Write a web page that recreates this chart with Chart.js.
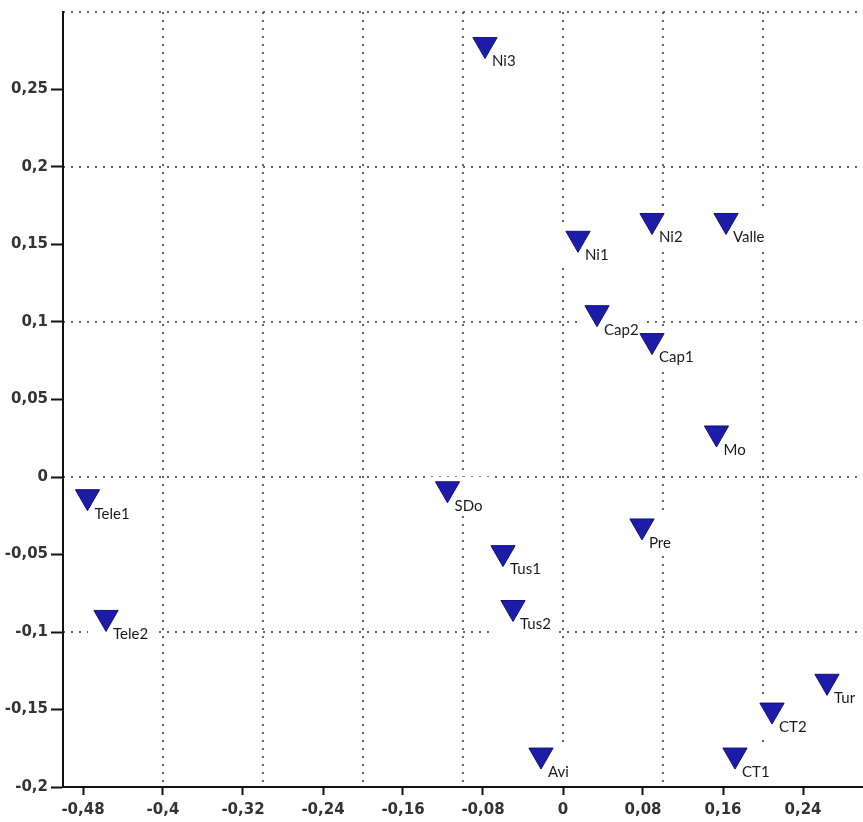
<!DOCTYPE html>
<html>
<head>
<meta charset="utf-8">
<script src="https://cdn.jsdelivr.net/npm/chart.js@4/dist/chart.umd.min.js"></script>
<style>
  html, body { margin: 0; padding: 0; background: #fff; }
  canvas { display: block; }
</style>
</head>
<body>
<canvas id="plot" width="863" height="822"></canvas>
<script>
// point names and coordinates
const names   = ['Ni3', 'Ni1', 'Ni2', 'Valle', 'Cap2', 'Cap1', 'Mo', 'Tele1', 'SDo', 'Pre', 'Tus1', 'Tus2', 'Tele2', 'Tur', 'CT2', 'CT1', 'Avi'];
const xValues = [-0.078, 0.015, 0.089, 0.163, 0.034, 0.089, 0.1535, -0.4755, -0.1155, 0.079, -0.060, -0.050, -0.457, 0.264, 0.209, 0.172, -0.022];
const yValues = [0.279, 0.154, 0.1655, 0.1655, 0.106, 0.088, 0.0284, -0.0127, -0.0076, -0.0316, -0.0488, -0.0842, -0.0906, -0.1318, -0.1504, -0.1794, -0.1794];

const xTicks = [-0.48, -0.4, -0.32, -0.24, -0.16, -0.08, 0, 0.08, 0.16, 0.24];
const yTicks = [-0.2, -0.15, -0.1, -0.05, 0, 0.05, 0.1, 0.15, 0.2, 0.25];

const LABEL_FONT = '15px Lato';
const AXIS_FONT = { family: "'DejaVu Sans'", size: 15, weight: 'bold' };
const fmt = v => String(Math.round(v * 100) / 100).replace('.', ',');

// white patch behind each marker + name, then the name itself
const pointNames = {
    id: 'pointNames',
    beforeDatasetsDraw(chart) {
        const ctx = chart.ctx;
        const meta = chart.getDatasetMeta(0);
        ctx.save();
        ctx.font = LABEL_FONT;
        ctx.fillStyle = '#fff';
        meta.data.forEach((pt, i) => {
            const w = ctx.measureText(names[i]).width;
            ctx.fillRect(pt.x - 18, pt.y - 12, w + 7 + 18 + 8, 39);
        });
        ctx.restore();
    },
    afterDatasetsDraw(chart) {
        const ctx = chart.ctx;
        const meta = chart.getDatasetMeta(0);
        ctx.save();
        ctx.font = LABEL_FONT;
        ctx.fillStyle = '#1a1a1a';
        ctx.textAlign = 'left';
        ctx.textBaseline = 'middle';
        meta.data.forEach((pt, i) => {
            ctx.fillText(names[i], pt.x + 7, pt.y + 17);
        });
        ctx.restore();
    }
};

const dotted = '#666';

new Chart(document.getElementById('plot'), {
    type: 'scatter',
    data: {
        datasets: [{
            data: xValues.map((x, i) => ({ x, y: yValues[i] })),
            pointStyle: 'triangle',
            rotation: 180,
            pointRadius: 14,
            pointHoverRadius: 14,
            backgroundColor: '#1c1ca6',
            borderColor: '#13137e',
            borderWidth: 1
        }]
    },
    options: {
        responsive: false,
        animation: false,
        layout: { autoPadding: false, padding: { top: 10, right: 0, bottom: 0, left: 0 } },
        plugins: { legend: { display: false }, tooltip: { enabled: false } },
        scales: {
            x: {
                type: 'linear', position: 'bottom', min: -0.5, max: 0.3,
                afterBuildTicks: s => { s.ticks = xTicks.map(v => ({ value: v })); },
                afterFit: s => { s.height = 35; },
                grid: { drawOnChartArea: false, tickLength: 8, tickColor: '#111', tickWidth: 2 },
                border: { color: '#111', width: 2 },
                ticks: { font: AXIS_FONT, color: '#333', padding: 6, maxRotation: 0, autoSkip: false, callback: v => fmt(v) }
            },
            xg: {
                type: 'linear', position: 'bottom', min: -0.5, max: 0.3,
                afterFit: s => { s.height = 0; },
                ticks: { display: false, stepSize: 0.1 },
                grid: { drawTicks: false, lineWidth: 2, color: c => c.tick && c.tick.value > 0.29 ? 'rgba(0,0,0,0)' : dotted },
                border: { display: false, dash: [2, 6] }
            },
            y: {
                type: 'linear', position: 'left', min: -0.2, max: 0.3,
                afterBuildTicks: s => { s.ticks = yTicks.map(v => ({ value: v })); },
                afterFit: s => { s.width = 63; },
                grid: { drawOnChartArea: false, tickLength: 12, tickColor: '#111', tickWidth: 2 },
                border: { color: '#111', width: 2 },
                ticks: { font: AXIS_FONT, color: '#333', padding: 3, autoSkip: false, callback: v => fmt(v) }
            },
            yg: {
                type: 'linear', position: 'left', min: -0.2, max: 0.3,
                afterFit: s => { s.width = 0; },
                ticks: { display: false, stepSize: 0.1 },
                grid: { drawTicks: false, lineWidth: 2, color: dotted },
                border: { display: false, dash: [2, 6] }
            }
        }
    },
    plugins: [pointNames]
});
</script>
</body>
</html>
